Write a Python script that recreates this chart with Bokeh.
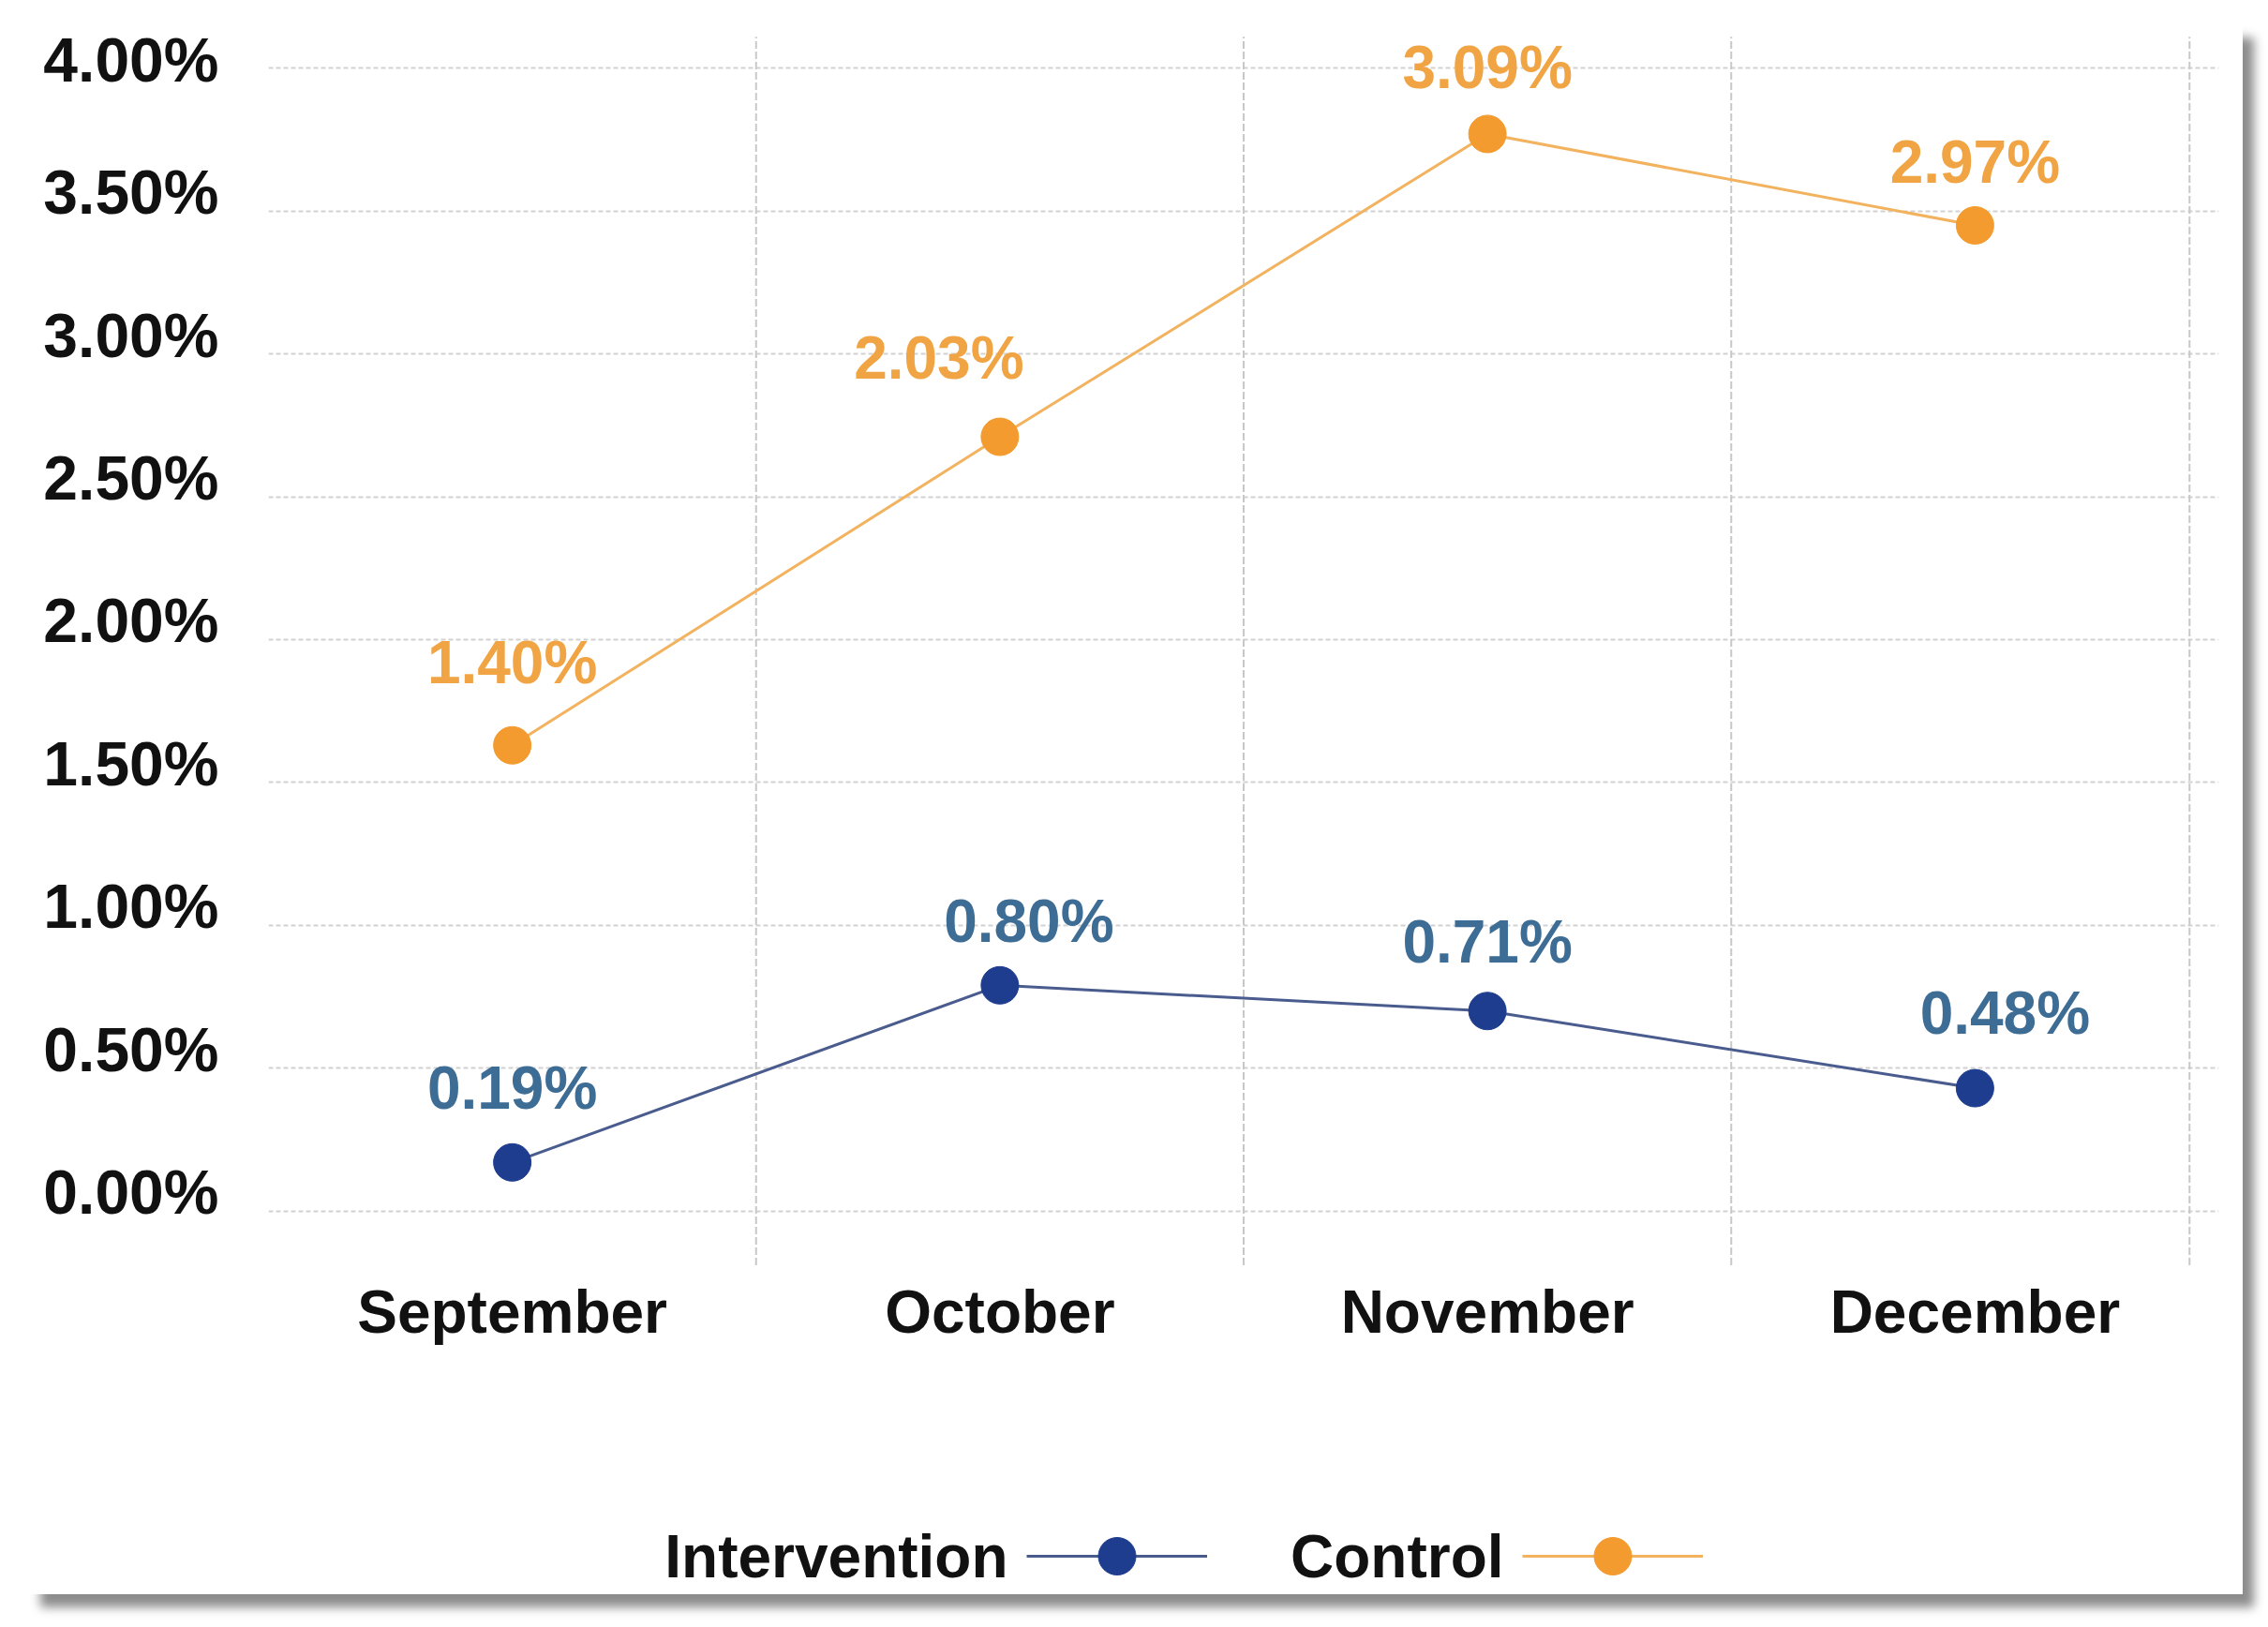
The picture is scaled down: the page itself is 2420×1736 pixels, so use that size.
from bokeh.plotting import figure
from bokeh.models import (Range1d, LinearAxis, FixedTicker, PrintfTickFormatter, ColumnDataSource,
                          LabelSet, Label, Legend, LegendItem, FactorRange, Grid)
from bokeh.core.properties import value
from bokeh.embed import file_html
from bokeh.resources import INLINE

# ---------------- data ----------------
months = ["September", "October", "November", "December"]
intervention_plotted = [0.17, 0.79, 0.70, 0.43]
control_plotted = [1.63, 2.71, 3.77, 3.45]
intervention_labels = ["0.19%", "0.80%", "0.71%", "0.48%"]
control_labels = ["1.40%", "2.03%", "3.09%", "2.97%"]
y_ticks = [0.0, 0.5, 1.0, 1.5, 2.0, 2.5, 3.0, 3.5, 4.0]
series_names = ["Intervention", "Control"]

# ---------------- style ----------------
FONT = "Liberation Sans"
INT_LINE = "#4A5B8E"
INT_DOT = "#1F3D8F"
INT_TEXT = "#3D6C95"
CTL_LINE = "#F2B25E"
CTL_DOT = "#F39B2F"
CTL_TEXT = "#F0A444"
int_dx = [0, 31, 0, 32]
int_dy = [79, 68, 74, 80]
ctl_dx = [0, -65, 0, 0]
ctl_dy = [88, 84, 71, 67]
label_shift = 0.066          # y tick labels sit a little above their grid lines
grid_bottom, grid_top = -0.19, 4.11   # extent of the vertical dashed lines
vgrid_pos = [1, 2, 3, 3.94]           # vertical dashed lines between the months
legend_x = [809, 1338]                # legend glyph left edges (px from plot-area left)
legend_y = 41                         # legend centre (px above plot-area bottom)

y0, y1 = -1.343, 4.152   # plot area reaches down to the legend

p = figure(x_range=FactorRange(factors=months, range_padding=0),
           y_range=Range1d(y0, y1),
           width=2362, height=1675, output_backend="svg", toolbar_location=None,
           x_axis_location=None, y_axis_location=None,
           min_border_left=255, min_border_right=26, min_border_top=0, min_border_bottom=0)
p.styles = {"margin-left": "31px", "margin-top": "26px",
            "box-shadow": "12px 14px 10px rgba(0,0,0,0.45)"}
p.outline_line_color = None
p.background_fill_color = "white"
p.border_fill_color = "white"

# hide default grids
for r in list(p.center):
    if isinstance(r, Grid):
        r.visible = False

# horizontal dashed grid
ygrid = Grid(dimension=1, ticker=FixedTicker(ticks=y_ticks), grid_line_color="#d2d2d2",
             grid_line_width=2, grid_line_dash="5 3")
p.add_layout(ygrid)

# vertical dashed lines between months
p.segment(x0=vgrid_pos, y0=[grid_bottom] * len(vgrid_pos), x1=vgrid_pos, y1=[grid_top] * len(vgrid_pos),
          line_color="#c8c8c8", line_width=2, line_dash="8 3")

# y axis labels (on a shifted range so they sit above the grid lines)
p.extra_y_ranges = {"lab": Range1d(y0 - label_shift, y1 - label_shift)}
yax = LinearAxis(y_range_name="lab", ticker=FixedTicker(ticks=y_ticks),
                 formatter=PrintfTickFormatter(format="%.2f%%"))
yax.axis_line_color = None
yax.major_tick_line_color = None
yax.minor_tick_line_color = None
yax.major_label_text_font = FONT
yax.major_label_text_font_style = "bold"
yax.major_label_text_font_size = "66px"
yax.major_label_text_color = "#111111"
yax.major_label_standoff = 47
p.add_layout(yax, "left")

# month names under the plot area
msrc = ColumnDataSource(dict(x=months, y=[grid_bottom] * len(months)))
p.add_layout(LabelSet(x="x", y="y", text="x", source=msrc, y_offset=-50,
                      text_align="center", text_baseline="middle", text_font=value(FONT),
                      text_font_style="bold", text_font_size="64px", text_color="#111111"))

src_i = ColumnDataSource(dict(x=months, y=intervention_plotted, t=intervention_labels, dx=int_dx, dy=int_dy))
src_c = ColumnDataSource(dict(x=months, y=control_plotted, t=control_labels, dx=ctl_dx, dy=ctl_dy))

li = p.line("x", "y", source=src_i, line_color=INT_LINE, line_width=3)
si = p.scatter("x", "y", source=src_i, size=40, fill_color=INT_DOT, line_color=INT_DOT)
lc = p.line("x", "y", source=src_c, line_color=CTL_LINE, line_width=3)
sc = p.scatter("x", "y", source=src_c, size=40, fill_color=CTL_DOT, line_color=CTL_DOT)

for src, col in ((src_i, INT_TEXT), (src_c, CTL_TEXT)):
    p.add_layout(LabelSet(x="x", y="y", text="t", source=src, x_offset="dx", y_offset="dy",
                          text_align="center", text_baseline="middle", text_font=value(FONT),
                          text_font_style="bold", text_font_size="64px", text_color=col))

# legend at the bottom: series name on the left of each glyph
for name, rends, gx in zip(series_names, ([li, si], [lc, sc]), legend_x):
    leg = Legend(items=[LegendItem(label=value(""), renderers=rends)],
                 location=(gx, legend_y - 50), glyph_width=193, glyph_height=100,
                 padding=0, margin=0, spacing=0, label_standoff=0,
                 border_line_color=None, background_fill_alpha=0,
                 label_text_font_size="1px")
    p.add_layout(leg)
    p.add_layout(Label(x=gx - 20, y=legend_y, x_units="screen", y_units="screen", text=name,
                       text_align="right", text_baseline="middle", text_font=FONT,
                       text_font_style="bold", text_font_size="64px", text_color="#111111"))

open("out.html", "w").write(file_html(p, INLINE))
